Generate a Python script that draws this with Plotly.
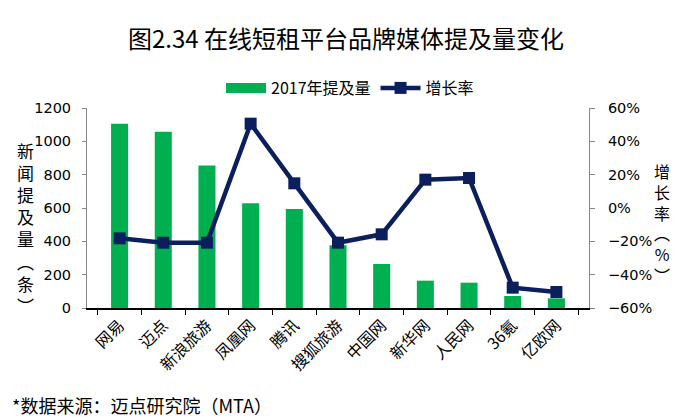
import plotly.graph_objects as go

categories = ["网易", "迈点", "新浪旅游", "凤凰网", "腾讯", "搜狐旅游", "中国网", "新华网", "人民网", "36氪", "亿欧网"]
mentions_2017 = [1105, 1058, 855, 628, 594, 376, 264, 164, 152, 72, 58]
growth_rate = [-18.2, -20.8, -20.8, 50.6, 14.8, -20.8, -15.8, 17.0, 18.0, -47.8, -50.4]
left_title = ["新", "闻", "提", "及", "量", "︵", "条", "︶"]
right_title = ["增", "长", "率", "︵", "%", "︶"]

FONT = "Noto Sans CJK SC, Noto Sans, sans-serif"
NUMFONT = "DejaVu Sans, Noto Sans CJK SC, sans-serif"
GREEN = "#00B050"
NAVY = "#0B1F5E"

W, H = 685, 411  # page body has an 8px margin
L, R, T, B = 79, 104, 100, 111
PW, PH = W - L - R, H - T - B

def px(x):
    return (x - 8 - L) / PW

def py(y):
    return (H - B - (y - 8)) / PH

fig = go.Figure()
fig.add_trace(go.Bar(
    x=categories, y=mentions_2017, name="2017年提及量", showlegend=False,
    marker=dict(color=GREEN, line=dict(width=0)), yaxis="y",
))
fig.add_trace(go.Scatter(
    x=[None], y=[None], name="2017年提及量", mode="lines",
    line=dict(color=GREEN, width=10), yaxis="y", showlegend=True,
))
fig.add_trace(go.Scatter(
    x=categories, y=growth_rate, name="增长率", mode="lines+markers",
    line=dict(color=NAVY, width=4.5),
    marker=dict(symbol="square", size=12, color=NAVY),
    yaxis="y2",
))

fig.update_layout(
    width=W, height=H,
    margin=dict(l=L, r=R, t=T, b=B, autoexpand=False),
    paper_bgcolor="white", plot_bgcolor="white",
    font=dict(family=FONT, size=15, color="#000000"),
    bargap=0.61,
    showlegend=True,
    legend=dict(orientation="h", x=px(350), xanchor="center", y=py(88), yanchor="middle",
                font=dict(size=16, family=FONT), traceorder="normal", itemwidth=40),
    title=dict(text="图2.34 在线短租平台品牌媒体提及量变化", x=(346 - 8) / W, xanchor="center",
               y=1 - (40 - 8) / H, yanchor="middle", font=dict(size=24, family=FONT, color="#000")),
    xaxis=dict(type="category", tickangle=-45, showline=True, linecolor="#000", linewidth=1.5,
               ticks="outside", ticklen=5, tickcolor="#000", tickson="boundaries",
               showgrid=False, tickfont=dict(size=16, family=FONT), automargin=False),
    yaxis=dict(range=[0, 1200], dtick=200, showline=True, linecolor="#888", linewidth=1,
               showgrid=False, ticks="outside", ticklen=4, tickcolor="#888",
               tickfont=dict(size=14.5, family=NUMFONT), zeroline=False, automargin=False,
               ticklabelstandoff=8),
    yaxis2=dict(range=[-60, 60], dtick=20, overlaying="y", side="right", showline=True,
                linecolor="#888", linewidth=1, ticks="outside", ticklen=5, tickcolor="#888",
                ticksuffix="%", showgrid=False, tickfont=dict(size=14.5, family=NUMFONT),
                zeroline=False, automargin=False, ticklabelstandoff=10),
)

fig.add_annotation(text="<br>".join(left_title), xref="paper", yref="paper", x=px(25),
                   y=py((152 + 303) / 2), xanchor="center", yanchor="middle", showarrow=False,
                   font=dict(size=17, family=FONT), align="center")
fig.add_annotation(text="<br>".join(right_title), xref="paper", yref="paper", x=px(662),
                   y=py((174 + 272) / 2), xanchor="center", yanchor="middle", showarrow=False,
                   font=dict(size=16, family=FONT), align="center")
fig.add_annotation(text="*数据来源：迈点研究院（MTA）", xref="paper", yref="paper",
                   x=px(10), y=py(405), xanchor="left", yanchor="middle", showarrow=False,
                   font=dict(size=18, family=FONT))

fig.write_html("out.html")
